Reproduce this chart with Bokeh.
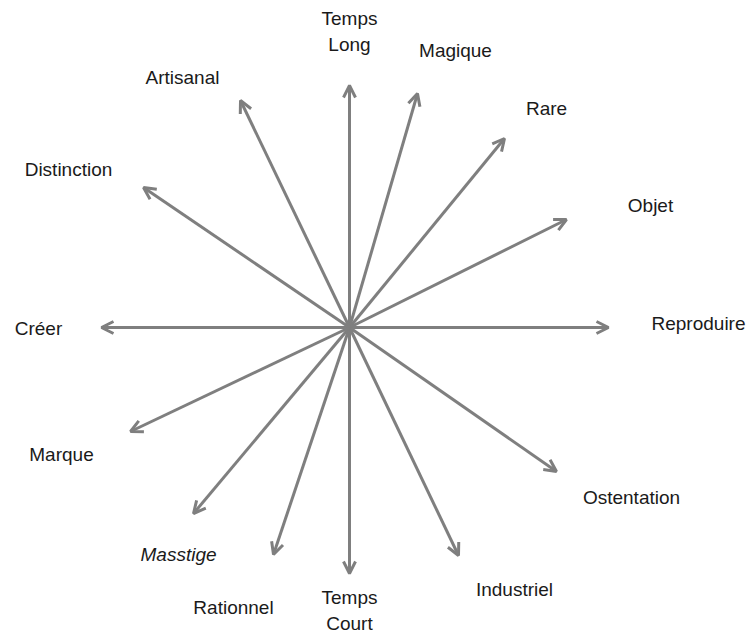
from bokeh.plotting import figure
from bokeh.models import Arrow, OpenHead, ColumnDataSource, Range1d
from bokeh.core.properties import value
from bokeh.embed import file_html
from bokeh.resources import INLINE

# Axes of the diagram (clockwise from the top)
labels = ["Temps\nLong", "Magique", "Rare", "Objet", "Reproduire", "Ostentation",
          "Industriel", "Temps\nCourt", "Rationnel", "Masstige", "Marque",
          "Créer", "Distinction", "Artisanal"]
# Arrow tip coordinates relative to the common origin
tip_x = [0, 68, 155, 217, 259, 207, 109, 0, -76, -156, -219, -248, -206, -109]
tip_y = [242, 234, 189, 108, 0, -144, -228, -246, -227, -186, -104, 0, 140, 227]
# Label centres
label_x = [0, 106, 197, 301, 349, 282, 165, 0, -116, -171, -288, -311, -281, -167]
label_y = [296, 277, 219, 122, 4, -170, -262, -283, -280, -227, -127, -1, 158, 250]
italic = [False, False, False, False, False, False, False, False, False, True,
          False, False, False, False]

GRAY = "#7f7f7f"
TEXT = "#1a1a1a"

p = figure(width=747, height=634, x_range=Range1d(-349, 398), y_range=Range1d(-307, 327),
           output_backend="svg", toolbar_location=None, min_border=0,
           x_axis_type=None, y_axis_type=None)
p.grid.visible = False
p.outline_line_color = None
p.background_fill_color = "white"
p.border_fill_color = "white"

arrow_src = ColumnDataSource(dict(x0=[0] * len(tip_x), y0=[0] * len(tip_y), x1=tip_x, y1=tip_y))
p.add_layout(Arrow(end=OpenHead(size=12, line_color=GRAY, line_width=3),
                   x_start="x0", y_start="y0", x_end="x1", y_end="y1",
                   source=arrow_src, line_color=GRAY, line_width=3))

normal = [i for i, it in enumerate(italic) if not it]
ital = [i for i, it in enumerate(italic) if it]

src_n = ColumnDataSource(dict(x=[label_x[i] for i in normal], y=[label_y[i] for i in normal],
                              t=[labels[i] for i in normal]))
src_i = ColumnDataSource(dict(x=[label_x[i] for i in ital], y=[label_y[i] for i in ital],
                              t=[labels[i] for i in ital]))

for src, style in ((src_n, "normal"), (src_i, "italic")):
    p.text(x="x", y="y", text="t", source=src, text_font=value("Liberation Sans"),
           text_font_size="19px", text_font_style=style, text_align="center",
           text_baseline="middle", text_color=TEXT, text_line_height=1.27)

open("out.html", "w").write(file_html(p, INLINE))
